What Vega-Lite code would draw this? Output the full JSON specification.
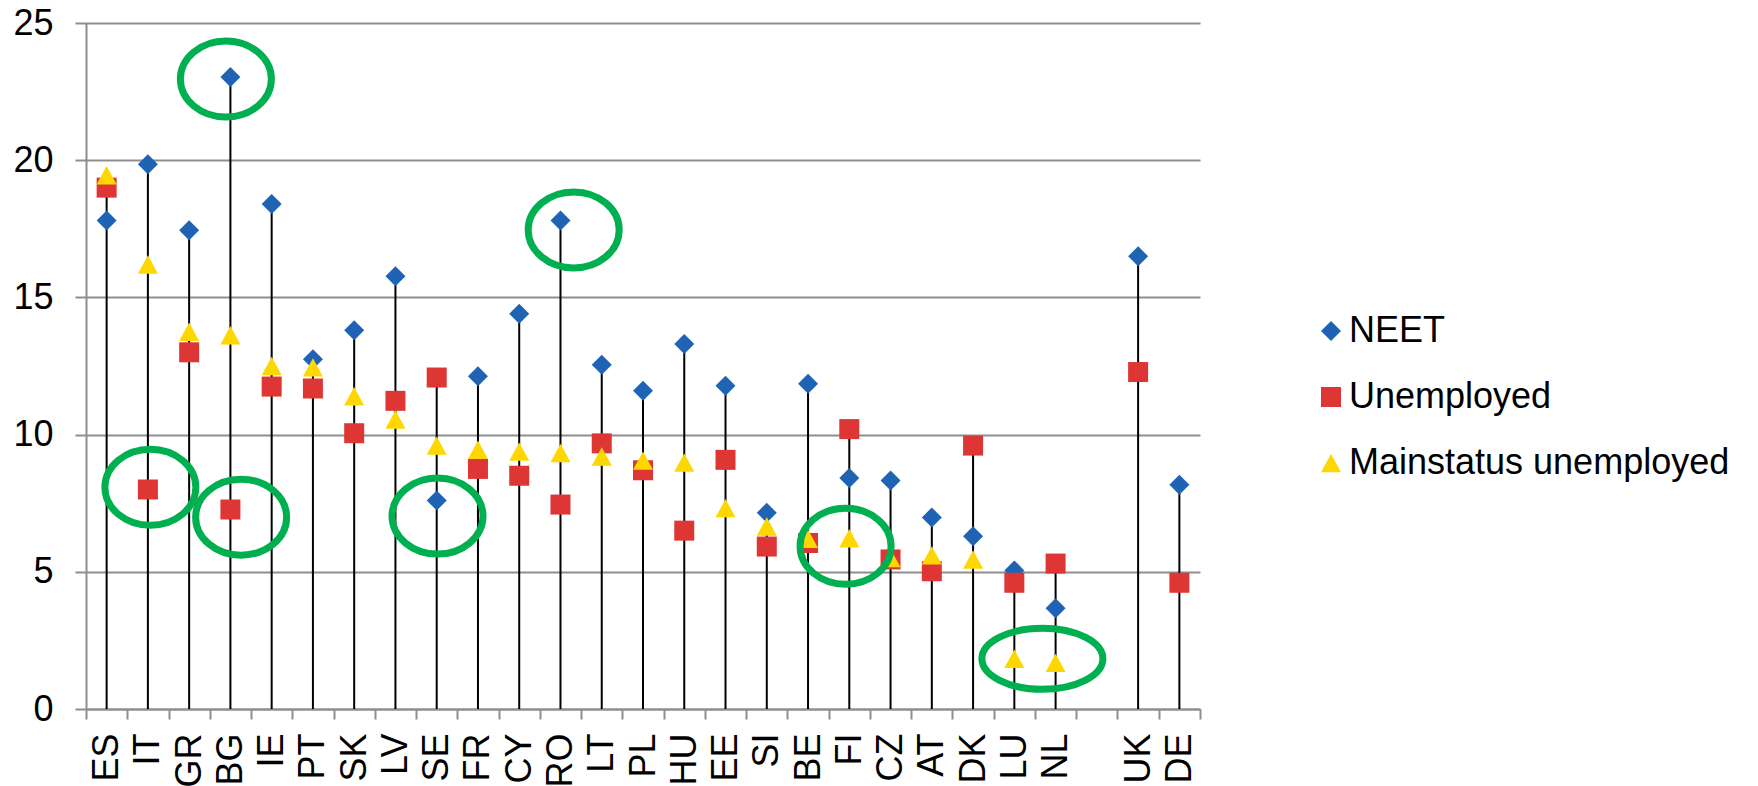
{
  "$schema": "https://vega.github.io/schema/vega-lite/v6.json",
  "width": 1114,
  "height": 686,
  "autosize": "none",
  "padding": {"left": 86, "top": 23, "right": 558, "bottom": 77},
  "config": {
    "font": "Liberation Sans",
    "view": {"stroke": null},
    "background": "white"
  },
  "datasets": {
    "main": [
      {"country": "ES", "NEET": 17.8, "Unemployed": 19.0, "Mainstatus unemployed": 19.45},
      {"country": "IT", "NEET": 19.85, "Unemployed": 8.0, "Mainstatus unemployed": 16.2},
      {"country": "GR", "NEET": 17.45, "Unemployed": 13.0, "Mainstatus unemployed": 13.75},
      {"country": "BG", "NEET": 23.03, "Unemployed": 7.27, "Mainstatus unemployed": 13.62},
      {"country": "IE", "NEET": 18.4, "Unemployed": 11.75, "Mainstatus unemployed": 12.5},
      {"country": "PT", "NEET": 12.75, "Unemployed": 11.68, "Mainstatus unemployed": 12.45},
      {"country": "SK", "NEET": 13.8, "Unemployed": 10.05, "Mainstatus unemployed": 11.4},
      {"country": "LV", "NEET": 15.77, "Unemployed": 11.23, "Mainstatus unemployed": 10.55},
      {"country": "SE", "NEET": 7.6, "Unemployed": 12.08, "Mainstatus unemployed": 9.6},
      {"country": "FR", "NEET": 12.13, "Unemployed": 8.75, "Mainstatus unemployed": 9.45},
      {"country": "CY", "NEET": 14.4, "Unemployed": 8.5, "Mainstatus unemployed": 9.38},
      {"country": "RO", "NEET": 17.8, "Unemployed": 7.45, "Mainstatus unemployed": 9.33},
      {"country": "LT", "NEET": 12.55, "Unemployed": 9.68, "Mainstatus unemployed": 9.2},
      {"country": "PL", "NEET": 11.6, "Unemployed": 8.7, "Mainstatus unemployed": 9.05},
      {"country": "HU", "NEET": 13.3, "Unemployed": 6.5, "Mainstatus unemployed": 8.98},
      {"country": "EE", "NEET": 11.78, "Unemployed": 9.08, "Mainstatus unemployed": 7.32},
      {"country": "SI", "NEET": 7.15, "Unemployed": 5.92, "Mainstatus unemployed": 6.65},
      {"country": "BE", "NEET": 11.85, "Unemployed": 6.05, "Mainstatus unemployed": 6.2},
      {"country": "FI", "NEET": 8.42, "Unemployed": 10.2, "Mainstatus unemployed": 6.22},
      {"country": "CZ", "NEET": 8.33, "Unemployed": 5.45, "Mainstatus unemployed": 5.5},
      {"country": "AT", "NEET": 6.98, "Unemployed": 5.02, "Mainstatus unemployed": 5.6},
      {"country": "DK", "NEET": 6.3, "Unemployed": 9.6, "Mainstatus unemployed": 5.45},
      {"country": "LU", "NEET": 5.05, "Unemployed": 4.6, "Mainstatus unemployed": 1.83},
      {"country": "NL", "NEET": 3.67, "Unemployed": 5.3, "Mainstatus unemployed": 1.68},
      {"country": "UK", "NEET": 16.5, "Unemployed": 12.28, "Mainstatus unemployed": null},
      {"country": "DE", "NEET": 8.17, "Unemployed": 4.6, "Mainstatus unemployed": null}
    ],
    "marks": [
      {"country": "BG", "frac": 0.39, "value": 22.96, "kind": "round"},
      {"country": "IT", "frac": 0.56, "value": 8.08, "kind": "round"},
      {"country": "BG", "frac": 0.76, "value": 6.99, "kind": "round"},
      {"country": "SE", "frac": 0.52, "value": 7.03, "kind": "round"},
      {"country": "RO", "frac": 0.82, "value": 17.46, "kind": "round"},
      {"country": "FI", "frac": 0.41, "value": 5.93, "kind": "round"},
      {"country": "NL", "frac": 0.18, "value": 1.83, "kind": "wide"}
    ]
  },
  "encoding": {
    "x": {
      "field": "country",
      "type": "nominal",
      "sort": null,
      "scale": {
        "type": "band",
        "domain": ["ES","IT","GR","BG","IE","PT","SK","LV","SE","FR","CY","RO","LT","PL","HU","EE","SI","BE","FI","CZ","AT","DK","LU","NL"," ","UK","DE"],
        "paddingInner": 0,
        "paddingOuter": 0
      },
      "axis": {
        "title": null,
        "labelAngle": -90,
        "labelFontSize": 36,
        "labelColor": "#000000",
        "labelPadding": 14,
        "tickBand": "extent",
        "tickSize": 10,
        "tickColor": "#8E8E8E",
        "tickWidth": 2,
        "domainColor": "#8E8E8E",
        "domainWidth": 2,
        "grid": false
      }
    }
  },
  "layer": [
    {
      "data": {"name": "main"},
      "transform": [
        {"fold": ["NEET", "Unemployed", "Mainstatus unemployed"], "as": ["series", "value"]},
        {"filter": "datum.value != null"},
        {"aggregate": [{"op": "max", "field": "value", "as": "top"}], "groupby": ["country"]}
      ],
      "mark": {"type": "rule", "color": "#000000", "strokeWidth": 2},
      "encoding": {
        "y": {
          "field": "top",
          "type": "quantitative",
          "scale": {"domain": [0, 25], "nice": false},
          "axis": {
            "title": null,
            "values": [0, 5, 10, 15, 20, 25],
            "grid": true,
            "gridColor": "#8E8E8E",
            "gridWidth": 2,
            "domainColor": "#8E8E8E",
            "domainWidth": 2,
            "tickColor": "#8E8E8E",
            "tickWidth": 2,
            "tickSize": 11,
            "labelPadding": 22,
            "labelFontSize": 36,
            "labelColor": "#000000"
          }
        },
        "y2": {"datum": 0}
      }
    },
    {
      "data": {"name": "main"},
      "transform": [
        {"fold": ["NEET", "Unemployed", "Mainstatus unemployed"], "as": ["series", "value"]},
        {"filter": "datum.value != null"}
      ],
      "mark": {"type": "point", "filled": true, "opacity": 1, "size": 400, "strokeWidth": 0},
      "encoding": {
        "y": {"field": "value", "type": "quantitative"},
        "color": {
          "field": "series",
          "type": "nominal",
          "scale": {
            "domain": ["NEET", "Unemployed", "Mainstatus unemployed"],
            "range": ["#1F64B4", "#DE3535", "#FFD700"]
          },
          "legend": {
            "title": null,
            "orient": "none",
            "legendX": 1227,
            "legendY": 290,
            "padding": 0,
            "labelFontSize": 36,
            "labelColor": "#000000",
            "labelOffset": 0,
            "labelLimit": 800,
            "symbolSize": 400,
            "symbolStrokeWidth": 0,
            "rowPadding": 30
          }
        },
        "shape": {
          "field": "series",
          "type": "nominal",
          "scale": {
            "domain": ["NEET", "Unemployed", "Mainstatus unemployed"],
            "range": ["diamond", "square", "M0,-0.92L1,0.92L-1,0.92Z"]
          }
        }
      }
    },
    {
      "data": {"name": "marks"},
      "transform": [{"filter": "datum.kind == 'round'"}],
      "mark": {
        "type": "point",
        "filled": false,
        "color": "#00B050",
        "strokeWidth": 7,
        "opacity": 1,
        "size": 8281,
        "shape": "M-1,0A1,0.835,0,1,0,1,0A1,0.835,0,1,0,-1,0Z"
      },
      "encoding": {
        "y": {"field": "value", "type": "quantitative"},
        "xOffset": {"field": "frac", "type": "quantitative", "scale": {"domain": [0, 1]}}
      }
    },
    {
      "data": {"name": "marks"},
      "transform": [{"filter": "datum.kind == 'wide'"}],
      "mark": {
        "type": "point",
        "filled": false,
        "color": "#00B050",
        "strokeWidth": 7,
        "opacity": 1,
        "size": 14641,
        "shape": "M-1,0A1,0.504,0,1,0,1,0A1,0.504,0,1,0,-1,0Z"
      },
      "encoding": {
        "y": {"field": "value", "type": "quantitative"},
        "xOffset": {"field": "frac", "type": "quantitative", "scale": {"domain": [0, 1]}}
      }
    }
  ]
}
